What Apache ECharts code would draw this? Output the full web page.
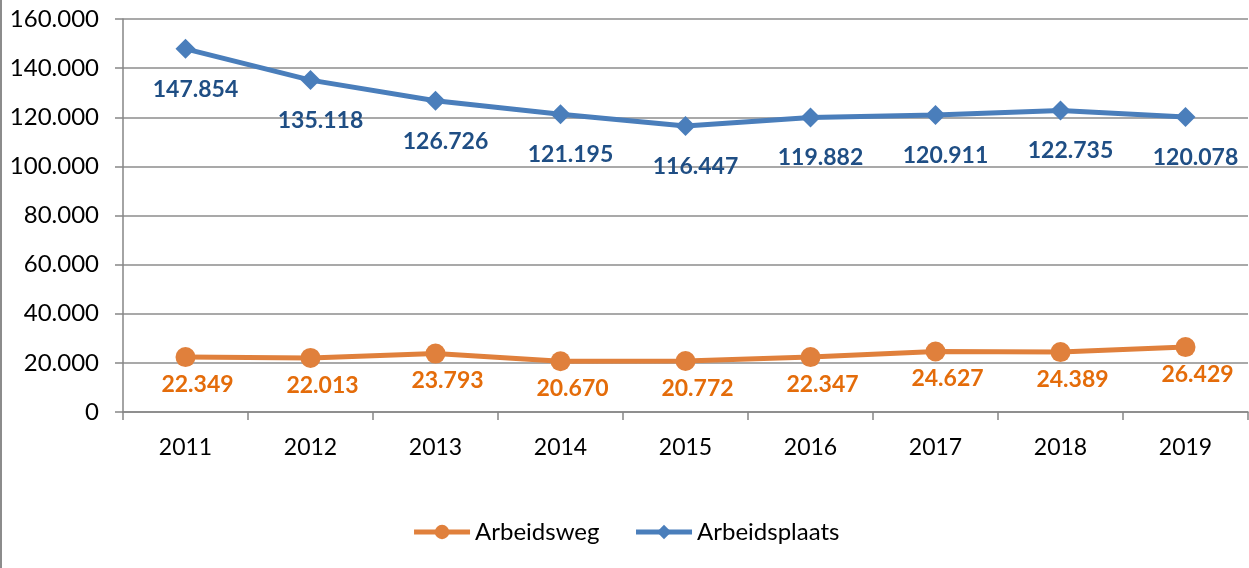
<!DOCTYPE html>
<html>
<head>
<meta charset="utf-8">
<script src="https://cdn.jsdelivr.net/npm/echarts@6/dist/echarts.min.js"></script>
<style>
  html, body { margin: 0; padding: 0; background: #fff; }
  #chart { width: 1249px; height: 568px; box-sizing: border-box; border-left: 2px solid #8c8c8c; }
</style>
</head>
<body>
<div id="chart"></div>
<script>
// jaren
const years = ['2011', '2012', '2013', '2014', '2015', '2016', '2017', '2018', '2019'];
// aantallen
const arbeidsweg = [22349, 22013, 23793, 20670, 20772, 22347, 24627, 24389, 26429];
const arbeidsplaats = [147854, 135118, 126726, 121195, 116447, 119882, 120911, 122735, 120078];

const fmt = v => String(v).replace(/\B(?=(\d{3})+(?!\d))/g, '.');
const font = 'Lato, "Liberation Sans", sans-serif';
const orange = '#e0803c';
const blue = '#4a7ebb';

const chart = echarts.init(document.getElementById('chart'));
chart.setOption({
  animation: false,
  textStyle: { fontFamily: font },
  grid: { left: 121, right: 1, top: 19, bottom: 156 },
  legend: {
    left: 'center',
    top: 515,
    itemWidth: 56,
    itemHeight: 18,
    itemGap: 34,
    textStyle: { fontSize: 24, color: '#000', fontFamily: font },
    data: [
      { name: 'Arbeidsweg', lineStyle: { width: 5, color: orange } },
      { name: 'Arbeidsplaats', lineStyle: { width: 5, color: blue } }
    ]
  },
  xAxis: {
    type: 'category',
    data: years,
    boundaryGap: true,
    axisLine: { lineStyle: { color: '#868686', width: 1.5 } },
    axisTick: { show: true, length: 8, lineStyle: { color: '#868686', width: 1.5 } },
    axisLabel: { fontSize: 23, color: '#000', margin: 24 }
  },
  yAxis: {
    type: 'value',
    min: 0,
    max: 160000,
    interval: 20000,
    axisLine: { show: true, lineStyle: { color: '#868686', width: 1.5 } },
    axisTick: { show: true, length: 8, lineStyle: { color: '#868686', width: 1.5 } },
    splitLine: { lineStyle: { color: '#8c8c8c', width: 1.5 } },
    axisLabel: { fontSize: 24, color: '#000', margin: 24, formatter: fmt }
  },
  series: [
    {
      name: 'Arbeidsweg',
      type: 'line',
      data: arbeidsweg,
      symbol: 'circle',
      symbolSize: 20,
      lineStyle: { color: orange, width: 5 },
      itemStyle: { color: orange },
      label: {
        show: true,
        position: 'bottom',
        distance: 6,
        offset: [12, 0],
        color: '#e46c0a',
        fontWeight: 'bold',
        fontSize: 23,
        formatter: p => fmt(p.value)
      }
    },
    {
      name: 'Arbeidsplaats',
      type: 'line',
      data: arbeidsplaats,
      symbol: 'diamond',
      symbolSize: 20,
      lineStyle: { color: blue, width: 5 },
      itemStyle: { color: blue },
      label: {
        show: true,
        position: 'bottom',
        distance: 19,
        offset: [10, 0],
        color: '#1f4e84',
        fontWeight: 'bold',
        fontSize: 23,
        formatter: p => fmt(p.value)
      }
    }
  ]
});
</script>
</body>
</html>
